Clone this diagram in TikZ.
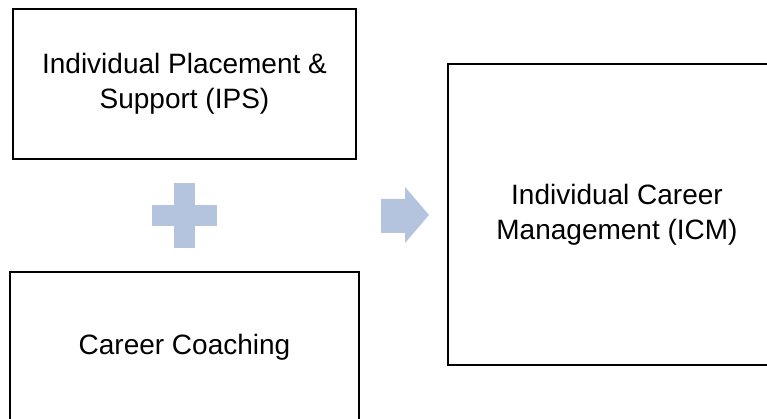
\documentclass[tikz,border=0pt]{standalone}
\usepackage{fontspec}
\setmainfont{Liberation Sans}
\definecolor{plusblue}{RGB}{180,196,222}
\tikzset{
  box/.style={draw, line width=1.4pt, align=center, inner sep=0pt,
    font=\fontsize{28}{35}\selectfont},
  mark shape/.style={fill=plusblue}
}

\begin{document}
\begin{tikzpicture}[x=1pt, y=-1pt]
	\useasboundingbox (0,0) rectangle (767,419);
	\clip (0,0) rectangle (767,419);

	% boxes
	\node[box, minimum width=343pt, minimum height=150pt] (ips) at (184.5,84) {Individual Placement \&\\Support (IPS)};
	\node[box, minimum width=349pt, minimum height=150pt] (coach) at (184.5,347) {Career Coaching};
	\node[box, minimum width=338pt, minimum height=301pt] (icm) at (617,214.5) {Individual Career\\Management (ICM)};

	% plus sign
	\coordinate (plus) at (184.5,215.5);
	\fill[mark shape, shift={(plus)}] (-10.5,-32.5) rectangle (10.5,32.5);
	\fill[mark shape, shift={(plus)}] (-32.5,-10.5) rectangle (32.5,10.5);

	% block arrow
	\coordinate (arrow) at (405,215);
	\fill[mark shape, shift={(arrow)}] (-24,-16) -- (0,-16) -- (0,-28) -- (24,0) -- (0,28) -- (0,18) -- (-24,18) -- cycle;
\end{tikzpicture}
\end{document}
